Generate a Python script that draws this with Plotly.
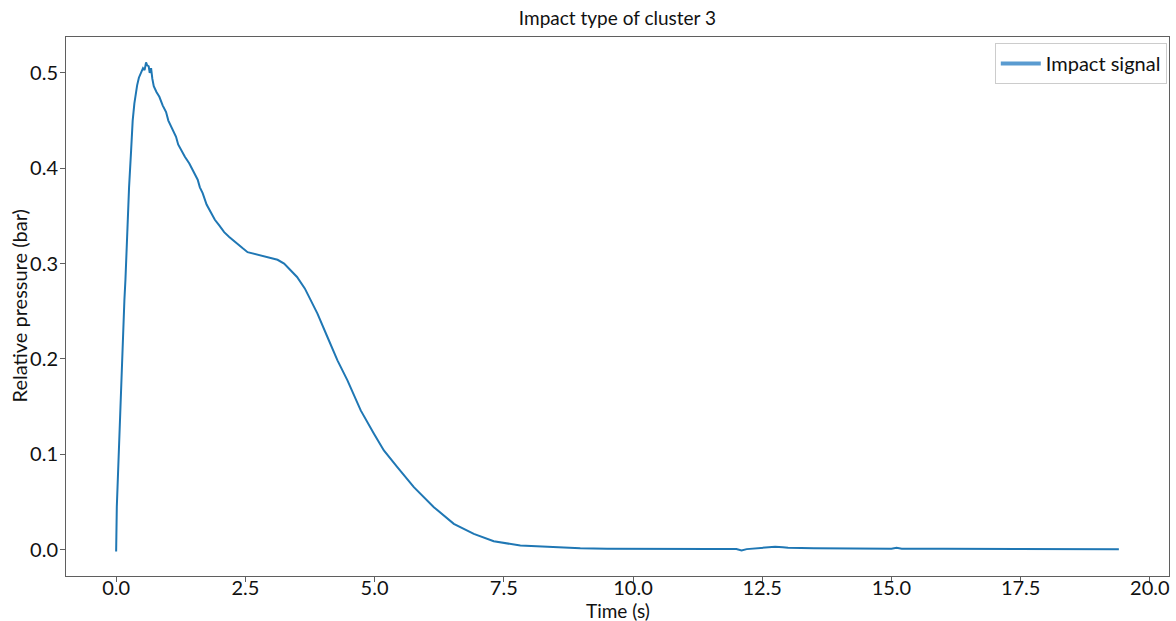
import plotly.graph_objects as go

# Time (s) and relative pressure (bar)
TIME = [0.0, 0.0, 0.013, 0.032, 0.064, 0.097, 0.129, 0.16, 0.18, 0.2, 0.212, 0.25, 0.29, 0.32,
        0.353, 0.37, 0.406, 0.44, 0.483, 0.52, 0.55, 0.579, 0.6, 0.63, 0.65, 0.676, 0.7, 0.728,
        0.78, 0.836, 0.9, 0.966, 1.01, 1.062, 1.11, 1.159, 1.2, 1.255, 1.33, 1.416, 1.5, 1.578,
        1.62, 1.674, 1.75, 1.834, 1.91, 1.995, 2.09, 2.188, 2.27, 2.35, 2.45, 2.543, 2.7, 2.864,
        3.0, 3.123, 3.25, 3.38, 3.5, 3.65, 3.895, 4.088, 4.282, 4.475, 4.732, 4.988, 5.18, 5.44,
        5.76, 6.147, 6.533, 6.92, 7.306, 7.82, 8.46, 8.98, 9.5, 10.0, 10.5, 11.0, 11.5, 12.0,
        12.1, 12.2, 12.3, 12.5, 12.75, 12.9, 13.0, 13.5, 14.0, 14.5, 15.0, 15.1, 15.2, 16.0,
        17.0, 18.0, 19.0, 19.4]

PRESSURE = [-0.002, 0.04, 0.045, 0.073, 0.125, 0.167, 0.22, 0.262, 0.283, 0.31, 0.338, 0.38,
            0.419, 0.45, 0.468, 0.475, 0.487, 0.495, 0.500, 0.505, 0.503, 0.511, 0.508, 0.507,
            0.50, 0.505, 0.494, 0.486, 0.48, 0.475, 0.466, 0.459, 0.45, 0.444, 0.437, 0.433,
            0.425, 0.419, 0.412, 0.405, 0.396, 0.388, 0.38, 0.374, 0.362, 0.353, 0.346, 0.340,
            0.333, 0.328, 0.324, 0.321, 0.316, 0.312, 0.310, 0.308, 0.306, 0.304, 0.30, 0.293,
            0.286, 0.274, 0.2476, 0.223, 0.1985, 0.1775, 0.146, 0.1215, 0.104, 0.0865, 0.0655,
            0.0445, 0.027, 0.0165, 0.0088, 0.0042, 0.0024, 0.0014, 0.001, 0.0007, 0.0006, 0.0005,
            0.0005, 0.0005, -0.001, 0.0005, 0.001, 0.002, 0.003, 0.0025, 0.002, 0.0015, 0.0012,
            0.001, 0.001, 0.002, 0.001, 0.0008, 0.0006, 0.0005, 0.0004, 0.0003]

X_TICKS = [0.0, 2.5, 5.0, 7.5, 10.0, 12.5, 15.0, 17.5, 20.0]
Y_TICKS = [0.0, 0.1, 0.2, 0.3, 0.4, 0.5]

TITLE = "Impact type of cluster 3"
X_TITLE = "Time (s)"
Y_TITLE = "Relative pressure (bar)"
SERIES_NAME = "Impact signal"
FONT = "Lato, 'Open Sans', sans-serif"

fig = go.Figure()
fig.add_trace(go.Scatter(
    x=TIME, y=PRESSURE, mode="lines", showlegend=False,
    line=dict(color="#1f77b4", width=2),
))
# legend entry (thicker, lighter sample like the reference)
fig.add_trace(go.Scatter(
    x=[None], y=[None], mode="lines", name=SERIES_NAME,
    line=dict(color="#5a9bd0", width=4),
))

axis_common = dict(
    showline=True, linecolor="#5f5f5f", linewidth=1, mirror=True,
    showgrid=False, zeroline=False, ticks="outside", ticklen=5,
    tickcolor="#5f5f5f", tickfont=dict(family=FONT, size=20, color="#111"),
    automargin=False,
)

fig.update_layout(
    width=1176, height=621,
    margin=dict(l=66, r=7, t=37, b=45),
    paper_bgcolor="white", plot_bgcolor="white",
    font=dict(family=FONT, color="#111"),
    title=dict(text=TITLE, x=0.525, xanchor="center",
               y=0.971, yanchor="middle", font=dict(family=FONT, size=19, color="#111")),
    xaxis=dict(range=[-0.97, 20.37], tickvals=X_TICKS, ticklabelstandoff=-11,
               ticktext=[f"{v:.1f}" for v in X_TICKS], **axis_common),
    yaxis=dict(range=[-0.0277, 0.5377], tickvals=Y_TICKS, ticklabelstandoff=-2,
               ticktext=[f"{v:.1f}" for v in Y_TICKS], **axis_common),
    legend=dict(x=0.998, y=0.989, xanchor="right", yanchor="top",
                bgcolor="white", bordercolor="#cccccc", borderwidth=1,
                font=dict(family=FONT, size=20, color="#111"),
                itemwidth=40),
    annotations=[
        dict(text=X_TITLE, xref="paper", yref="paper", x=0.5, y=0, yshift=-34,
             xanchor="center", yanchor="middle", showarrow=False,
             font=dict(family=FONT, size=19, color="#111")),
        dict(text=Y_TITLE, xref="paper", yref="paper", x=0, y=0.5, xshift=-48,
             xanchor="center", yanchor="middle", showarrow=False, textangle=-90,
             font=dict(family=FONT, size=20, color="#111")),
    ],
)

fig.write_html("out.html", config={"displayModeBar": False},
               post_script="document.body.style.margin='0';document.body.style.padding='0';")
